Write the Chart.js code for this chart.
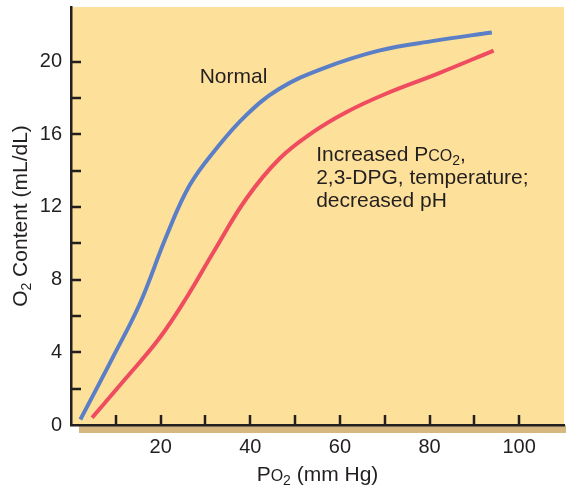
<!DOCTYPE html>
<html>
<head>
<meta charset="utf-8">
<script src="https://cdn.jsdelivr.net/npm/chart.js@4/dist/chart.umd.min.js"></script>
<style>
  html, body { margin: 0; padding: 0; background: #fff; }
  canvas { display: block; }
</style>
</head>
<body>
<canvas id="curve" width="566" height="491"></canvas>
<script>
// PO2 (mm Hg) vs O2 content (mL/dL)
const normalP = [2.1, 9.5, 15.4, 21.3, 26.5, 32.4, 39.1, 46.5, 56, 68.7, 81.3, 93.9];
const normalO2 = [0.3, 3.8, 6.7, 10.4, 13.2, 15.2, 17.05, 18.5, 19.6, 20.6, 21.15, 21.6];
const shiftedP = [4.7, 12, 19.8, 26, 32, 39.1, 46.5, 53.9, 61.3, 70, 82, 94.3];
const shiftedO2 = [0.4, 2.5, 4.8, 7.1, 9.6, 12.45, 14.65, 16.1, 17.2, 18.2, 19.35, 20.6];

const xLabels = [20, 40, 60, 80, 100];
const yLabels = [0, 4, 8, 12, 16, 20];
const xMarks = [10, 20, 30, 40, 50, 60, 70, 80, 90, 100];
const yMarks = [2, 4, 6, 8, 10, 12, 14, 16, 18, 20];

const ink = '#231f20';
const FONT = '"Liberation Sans", Arial, Helvetica, sans-serif';

const toPoints = (xs, ys) => xs.map((x, i) => ({x: x, y: ys[i]}));

// draws text pieces: [text, size, dy]
function drawPieces(ctx, pieces, x, y) {
    let cx = x;
    pieces.forEach(p => {
        ctx.font = p[1] + 'px ' + FONT;
        ctx.fillText(p[0], cx, y + (p[2] || 0));
        cx += ctx.measureText(p[0]).width;
    });
    return cx - x;
}
function piecesWidth(ctx, pieces) {
    let w = 0;
    pieces.forEach(p => {
        ctx.font = p[1] + 'px ' + FONT;
        w += ctx.measureText(p[0]).width;
    });
    return w;
}

const decor = {
    id: 'decor',
    beforeDraw(chart) {
        const {ctx, chartArea: a} = chart;
        ctx.save();
        ctx.fillStyle = '#fde09a';
        ctx.fillRect(a.left, a.top, a.right - a.left, a.bottom - a.top);
        ctx.fillStyle = '#d6b77f';
        ctx.fillRect(a.left + 8, a.bottom, a.right - a.left - 6, 8);
        ctx.restore();
    },
    afterDraw(chart) {
        const {ctx, chartArea: a, scales} = chart;
        ctx.save();
        // inward ticks
        ctx.strokeStyle = ink;
        ctx.lineWidth = 2.5;
        ctx.beginPath();
        xMarks.forEach(v => {
            const px = Math.round(scales.x.getPixelForValue(v));
            ctx.moveTo(px, a.bottom);
            ctx.lineTo(px, a.bottom - 10);
        });
        yMarks.forEach(v => {
            const py = Math.round(scales.y.getPixelForValue(v));
            ctx.moveTo(a.left, py);
            ctx.lineTo(a.left + 10, py);
        });
        ctx.stroke();

        ctx.fillStyle = ink;
        ctx.textBaseline = 'alphabetic';
        ctx.textAlign = 'left';

        // x title: PO2 (mm Hg)
        const xt = [['P', 21], ['O', 16], ['2', 14, 4], [' (mm Hg)', 21]];
        const xw = piecesWidth(ctx, xt);
        drawPieces(ctx, xt, (a.left + a.right) / 2 - xw / 2, 481);

        // y title: O2 Content (mL/dL)
        const yt = [['O', 21], ['2', 14, 4], [' Content (mL/dL)', 21]];
        const yw = piecesWidth(ctx, yt);
        ctx.save();
        ctx.translate(27, (a.top + a.bottom) / 2);
        ctx.rotate(-Math.PI / 2);
        drawPieces(ctx, yt, -yw / 2, 0);
        ctx.restore();

        // curve labels
        let lx = scales.x.getPixelForValue(28.7);
        let ly = scales.y.getPixelForValue(18.8);
        drawPieces(ctx, [['Normal', 21]], lx, ly);

        lx = scales.x.getPixelForValue(54.7);
        ly = scales.y.getPixelForValue(14.55);
        drawPieces(ctx, [['Increased P', 21], ['CO', 16], ['2', 14, 4], [',', 21]], lx, ly);
        drawPieces(ctx, [['2,3-DPG, temperature;', 21]], lx, ly + 23.3);
        drawPieces(ctx, [['decreased pH', 21]], lx, ly + 46.6);
        ctx.restore();
    }
};

new Chart(document.getElementById('curve'), {
    type: 'line',
    data: {
        datasets: [{
            label: 'Normal',
            data: toPoints(normalP, normalO2),
            borderColor: '#5a7fc6',
            borderWidth: 4
        }, {
            label: 'Increased PCO2, 2,3-DPG, temperature; decreased pH',
            data: toPoints(shiftedP, shiftedO2),
            borderColor: '#ef4c5f',
            borderWidth: 4
        }]
    },
    options: {
        responsive: false,
        animation: false,
        devicePixelRatio: 1,
        elements: {point: {radius: 0}, line: {fill: false, tension: 0.4, borderCapStyle: 'butt'}},
        layout: {padding: {top: 7, right: 2, left: 0, bottom: 0}},
        plugins: {legend: {display: false}, tooltip: {enabled: false}},
        scales: {
            x: {
                type: 'linear',
                min: 0,
                max: 110,
                grid: {display: false, drawTicks: false},
                border: {display: true, color: ink, width: 2.5},
                ticks: {color: ink, padding: 10, font: {family: FONT, size: 20}, maxRotation: 0},
                afterBuildTicks: s => { s.ticks = xLabels.map(v => ({value: v})); },
                afterFit: s => { s.height = 66; s.paddingLeft = 0; s.paddingRight = 0; }
            },
            y: {
                type: 'linear',
                min: 0,
                max: 23,
                grid: {display: false, drawTicks: false},
                border: {display: true, color: ink, width: 2.5},
                ticks: {color: ink, padding: 9, font: {family: FONT, size: 20}},
                afterBuildTicks: s => { s.ticks = yLabels.map(v => ({value: v})); },
                afterFit: s => { s.width = 71; s.paddingTop = 0; s.paddingBottom = 0; }
            }
        }
    },
    plugins: [decor]
});
</script>
</body>
</html>
